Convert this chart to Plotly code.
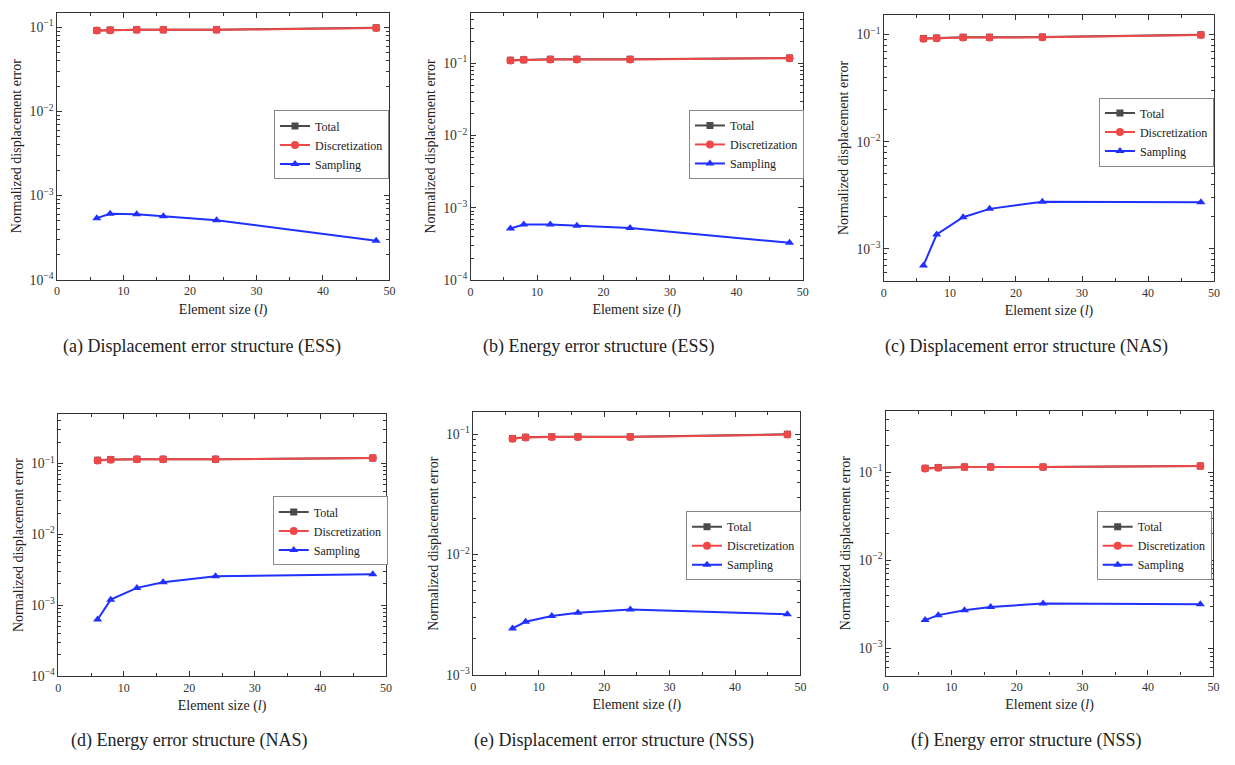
import plotly.graph_objects as go

# ---------------- data ----------------
element_size = [6, 8, 12, 16, 24, 48]

a_total = [0.092, 0.093, 0.094, 0.094, 0.094, 0.099]
a_disc = [0.0915, 0.0925, 0.0935, 0.0935, 0.0935, 0.0985]
a_samp = [5.4e-4, 6.1e-4, 6.0e-4, 5.7e-4, 5.1e-4, 2.9e-4]

b_total = [0.110, 0.112, 0.1135, 0.1135, 0.1135, 0.118]
b_disc = [0.1095, 0.1115, 0.113, 0.113, 0.113, 0.1175]
b_samp = [5.2e-4, 5.9e-4, 5.9e-4, 5.7e-4, 5.3e-4, 3.3e-4]

c_total = [0.092, 0.093, 0.0945, 0.0945, 0.095, 0.100]
c_disc = [0.0915, 0.0925, 0.094, 0.094, 0.0945, 0.0995]
c_samp = [7.0e-4, 1.36e-3, 1.97e-3, 2.36e-3, 2.75e-3, 2.72e-3]

d_total = [0.111, 0.114, 0.115, 0.115, 0.115, 0.120]
d_disc = [0.1105, 0.1135, 0.1145, 0.1145, 0.1145, 0.1195]
d_samp = [6.3e-4, 1.2e-3, 1.76e-3, 2.12e-3, 2.57e-3, 2.74e-3]

e_total = [0.092, 0.094, 0.095, 0.095, 0.095, 0.0995]
e_disc = [0.0915, 0.0935, 0.0945, 0.0945, 0.0945, 0.099]
e_samp = [2.44e-3, 2.77e-3, 3.1e-3, 3.3e-3, 3.5e-3, 3.2e-3]

f_total = [0.111, 0.113, 0.115, 0.115, 0.115, 0.118]
f_disc = [0.1105, 0.1125, 0.1145, 0.1145, 0.1145, 0.1175]
f_samp = [2.09e-3, 2.38e-3, 2.71e-3, 2.95e-3, 3.22e-3, 3.16e-3]

captions = [
    "(a) Displacement error structure (ESS)",
    "(b) Energy error structure (ESS)",
    "(c) Displacement error structure (NAS)",
    "(d) Energy error structure (NAS)",
    "(e) Displacement error structure (NSS)",
    "(f) Energy error structure (NSS)",
]
series_names = ["Total", "Discretization", "Sampling"]
y_title = "Normalized displacement error"
x_title = "Element size (<i>l</i>)"

panels = [
    (a_total, a_disc, a_samp),
    (b_total, b_disc, b_samp),
    (c_total, c_disc, c_samp),
    (d_total, d_disc, d_samp),
    (e_total, e_disc, e_samp),
    (f_total, f_disc, f_samp),
]

# ---------------- layout (pixels) ----------------
W, H = 1235, 765
FONT = "Liberation Serif, Times New Roman, serif"
# plot frames: x0, x1, ytop, ybottom
frames = [
    (54.3, 389.3, 12.7, 282.7),
    (471.0, 805.7, 12.7, 283.3),
    (887.3, 1220.0, 15.0, 284.0),
    (55.7, 385.7, 418.3, 683.3),
    (473.7, 803.3, 416.7, 682.3),
    (889.3, 1219.3, 415.0, 682.7),
]
y_ranges = [
    (-4, -0.824),
    (-4, -0.30),
    (-3.301, -0.815),
    (-4, -0.30),
    (-3, -0.82),
    (-3.31, -0.30),
]
legend_pos = [  # left, vertical centre in pixels
    (273, 146.5),
    (691, 146),
    (1104, 133.5),
    (271.7, 536.5),
    (688, 551.5),
    (1101.7, 551.5),
]
caption_pos = [(200, 350), (600, 350), (1031, 350), (188, 748), (615, 748), (1031, 748)]

colors = ["#4a4a4a", "#f04848", "#2030ff"]
symbols = ["square", "circle", "triangle-up"]
sizes = [7, 8, 8]
axis_color = "#333333"

fig = go.Figure()
layout = dict(
    width=W, height=H,
    margin=dict(l=0, r=0, t=0, b=0),
    paper_bgcolor="white", plot_bgcolor="white",
    font=dict(family=FONT, size=12, color="#222222"),
    annotations=[],
)

for i, (series, frame, yr, lp, cp, cap) in enumerate(
        zip(panels, frames, y_ranges, legend_pos, caption_pos, captions)):
    n = "" if i == 0 else str(i + 1)
    leg = "legend" if i == 0 else "legend" + str(i + 1)
    x0, x1, yt, yb = frame
    for j, vals in enumerate(series):
        fig.add_trace(go.Scatter(
            x=element_size, y=vals, name=series_names[j],
            mode="lines+markers",
            line=dict(color=colors[j], width=2),
            marker=dict(symbol=symbols[j], size=sizes[j], color=colors[j]),
            xaxis="x" + n, yaxis="y" + n, legend=leg,
        ))
    layout["xaxis" + n] = dict(
        domain=[x0 / W, x1 / W], anchor="y" + n,
        range=[0, 50], dtick=10, tick0=0,
        ticks="inside", ticklen=5, tickwidth=1, tickcolor=axis_color,
        minor=dict(ticks="inside", ticklen=3, dtick=5, tickcolor=axis_color),
        showline=True, linecolor=axis_color, linewidth=1.3, mirror="ticks",
        showgrid=False, zeroline=False,
        tickfont=dict(family=FONT, size=12, color="#333333"),
        title=dict(text=x_title, font=dict(family=FONT, size=14, color="#222222"), standoff=6),
    )
    layout["yaxis" + n] = dict(
        domain=[1 - yb / H, 1 - yt / H], anchor="x" + n,
        type="log", range=list(yr), dtick=1,
        exponentformat="power",
        ticks="inside", ticklen=5, tickwidth=1, tickcolor=axis_color,
        minor=dict(ticks="inside", ticklen=3, tickcolor=axis_color, dtick="D1"),
        showline=True, linecolor=axis_color, linewidth=1.3, mirror="ticks",
        showgrid=False, zeroline=False,
        tickfont=dict(family=FONT, size=11, color="#333333"),
        title=dict(text=y_title, font=dict(family=FONT, size=14, color="#222222"), standoff=4),
    )
    layout[leg] = dict(
        x=lp[0] / W, y=1 - lp[1] / H, xanchor="left", yanchor="middle",
        xref="paper", yref="paper",
        bgcolor="white", bordercolor="#888888", borderwidth=1,
        font=dict(family=FONT, size=12, color="#222222"),
        itemwidth=30, tracegroupgap=0,
    )
    layout["annotations"].append(dict(
        text=cap, x=cp[0] / W, y=1 - cp[1] / H, xref="paper", yref="paper",
        xanchor="center", yanchor="middle", showarrow=False,
        font=dict(family=FONT, size=18, color="#222222"),
    ))

fig.update_layout(**layout)
fig.write_html("out.html")
